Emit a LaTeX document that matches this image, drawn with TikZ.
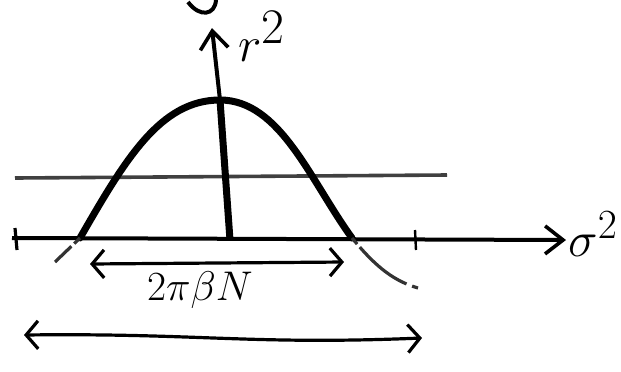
\documentclass[tikz,border=0pt]{standalone}
\usepackage{amsmath}
\usepackage{tikz}
\usetikzlibrary{arrows.meta,positioning,calc}

\begin{document}
\begin{tikzpicture}[
    x=0.5pt, y=-0.5pt,
    axis/.style={line width=2pt, -{Straight Barb[length=9pt, width=14pt, line width=1.8pt]}},
    span/.style={line width=1.6pt, {Straight Barb[length=6pt, width=14pt, line width=1.6pt]}-{Straight Barb[length=6pt, width=14pt, line width=1.6pt]}},
    curve/.style={line width=3.5pt, line cap=round},
    guide/.style={line width=1.6pt, black!80, dashed, dash pattern=on 4pt off 2pt on 30pt off 3pt},
    label/.style={font=\huge}
]
    \useasboundingbox (0,0) rectangle (621,371);

    % axes
    \coordinate (xstart) at (12,238);
    \coordinate (xend) at (566,240);
    \coordinate (yend) at (212,28);
    \draw[axis] (xstart) -- (xend);
    \node[label, font=\fontsize{30}{30}\selectfont, anchor=west, inner sep=0pt] (sig) at (568,234) {$\sigma^2$};
    \node[label, font=\fontsize{36}{36}\selectfont] (rr) at (262,36) {$r^2$};
    \draw[line width=1.6pt] (15,228) -- (17,250);
    \draw[line width=1.2pt] (415,230) -- (416,250);
    % cut-off mark at the top
    \draw[line width=2pt] (188,2) .. controls (200,18) and (215,15) .. (216,0);

    % level line
    \coordinate (lvlL) at (15,178);
    \coordinate (lvlR) at (447,175);
    \draw[line width=1.8pt, black!75] (lvlL) -- (lvlR);

    % bell curve
    \coordinate (left) at (80,238);
    \coordinate (peak) at (220,100);
    \coordinate (right) at (352,238);
    \coordinate (foot) at (230,240);
    \draw[axis] (peak) -- (yend);
    \draw[curve] (left) .. controls (125,160) and (160,100) .. (peak)
        .. controls (280,100) and (310,180) .. (right);
    \draw[guide] (left) -- (55,262);
    \draw[guide] (right) .. controls (372,262) and (390,280) .. (418,288);
    \draw[line width=3.5pt] (peak) -- (foot);

    % widths
    \coordinate (wa) at (90,264);
    \coordinate (wb) at (344,262);
    \draw[span] (wa) -- (wb);
    \node[label] (width) at (200,290) {$2\pi\beta N$};
    \coordinate (wwa) at (24,335);
    \coordinate (wwb) at (422,338);
    \draw[span] (wwa) .. controls (200,333) and (250,345) .. (wwb);
\end{tikzpicture}
\end{document}
